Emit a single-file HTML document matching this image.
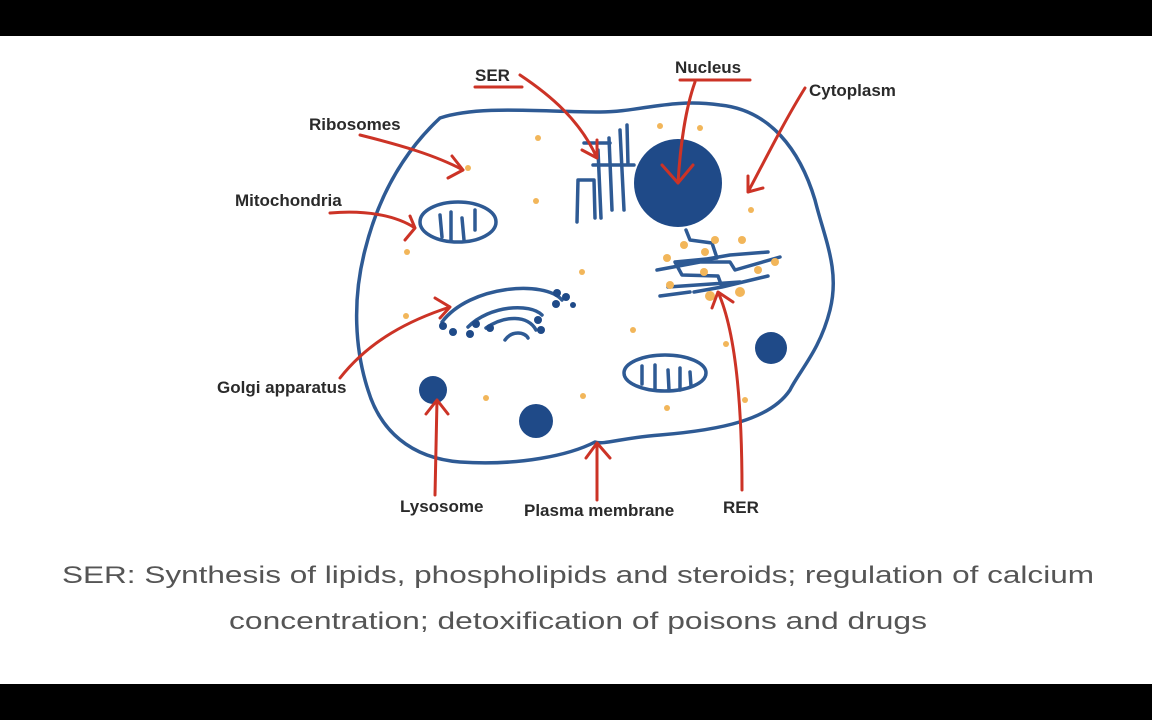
<!DOCTYPE html>
<html><head><meta charset="utf-8"><style>
html,body{margin:0;padding:0;background:#000;}
svg{display:block;}
</style></head><body>
<svg width="1152" height="720" viewBox="0 0 1152 720" xmlns="http://www.w3.org/2000/svg">
<rect x="0" y="0" width="1152" height="720" fill="#000"/>
<rect x="0" y="36" width="1152" height="648" fill="#fff"/>
<g fill="none" stroke="#2e5a94" stroke-width="3.5" stroke-linecap="round" stroke-linejoin="round">
<path d="M440,118 C480,105 540,112 600,112 C640,112 670,98 720,105 C770,110 800,150 815,200 C825,240 840,270 830,310 C820,350 800,370 790,390 C770,420 720,430 660,435 C620,438 605,445 595,442 C570,455 520,466 460,462 C410,458 380,430 368,390 C355,350 352,300 365,250 C375,210 395,160 440,118 Z"/>
<ellipse cx="458" cy="222" rx="38" ry="20"/>
<path d="M440,215 l2,22 M451,212 l0,28 M462,218 l2,22 M475,210 l0,20"/>
<ellipse cx="665" cy="373" rx="41" ry="18"/>
<path d="M642,366 l0,18 M655,365 l0,24 M668,370 l1,20 M680,368 l0,22 M690,372 l1,14"/>
<path d="M578,180 L577,222 M578,180 L594,180 L595,218 M593,165 L634,165 M598,150 L601,218 M609,138 L612,210 M620,130 L624,210 M627,125 L628,165 M584,143 L610,143"/>
<path d="M686,230 L690,240 L712,243 L717,258 L675,262 L682,275 L718,276 L722,287 L694,292 M678,264 L730,255 L768,252 M657,270 L700,262 M668,287 L740,282 M700,262 L730,262 L735,270 L780,257 M660,296 L690,292 M722,287 L768,276"/>
<path d="M442,322 C470,285 545,280 562,300 M468,327 C490,305 530,303 542,315 M486,328 C505,315 528,315 536,330 M505,340 C512,330 525,332 528,338"/>
</g>
<g fill="#1f4a88">
<circle cx="678" cy="183" r="44"/>
<circle cx="433" cy="390" r="14"/>
<circle cx="536" cy="421" r="17"/>
<circle cx="771" cy="348" r="16"/>
<circle cx="443" cy="326" r="4"/><circle cx="453" cy="332" r="4"/><circle cx="470" cy="334" r="4"/><circle cx="476" cy="324" r="4"/><circle cx="490" cy="328" r="4"/><circle cx="538" cy="320" r="4"/><circle cx="541" cy="330" r="4"/><circle cx="556" cy="304" r="4"/><circle cx="566" cy="297" r="4"/><circle cx="557" cy="293" r="4"/><circle cx="573" cy="305" r="3"/>
</g>
<g fill="#f2b65a">
<circle cx="468" cy="168" r="3"/><circle cx="538" cy="138" r="3"/><circle cx="536" cy="201" r="3"/><circle cx="407" cy="252" r="3"/><circle cx="582" cy="272" r="3"/><circle cx="406" cy="316" r="3"/><circle cx="633" cy="330" r="3"/><circle cx="486" cy="398" r="3"/><circle cx="583" cy="396" r="3"/><circle cx="667" cy="408" r="3"/><circle cx="745" cy="400" r="3"/><circle cx="726" cy="344" r="3"/><circle cx="660" cy="126" r="3"/><circle cx="700" cy="128" r="3"/><circle cx="751" cy="210" r="3"/><circle cx="684" cy="245" r="4"/><circle cx="715" cy="240" r="4"/><circle cx="742" cy="240" r="4"/><circle cx="667" cy="258" r="4"/><circle cx="705" cy="252" r="4"/><circle cx="704" cy="272" r="4"/><circle cx="758" cy="270" r="4"/><circle cx="775" cy="262" r="4"/><circle cx="670" cy="285" r="4"/><circle cx="710" cy="296" r="5"/><circle cx="740" cy="292" r="5"/>
</g>
<g fill="none" stroke="#cc3326" stroke-width="3" stroke-linecap="round" stroke-linejoin="round">
<path d="M475,87 L522,87 M680,80 L750,80"/>
<path d="M520,75 C550,95 580,120 597,158 M582,150 L597,158 L597,140"/>
<path d="M695,82 C685,110 680,150 678,183 M662,165 L678,183 L693,165"/>
<path d="M805,88 C785,120 765,160 748,192 M748,176 L748,192 L763,188"/>
<path d="M360,135 C400,145 435,155 463,170 M452,156 L463,170 L448,178"/>
<path d="M330,213 C365,210 395,215 415,228 M410,216 L415,228 L405,240"/>
<path d="M340,378 C370,340 410,320 450,307 M435,298 L450,307 L440,318"/>
<path d="M435,495 L437,400 M426,414 L437,400 L448,414"/>
<path d="M597,500 L597,443 M586,458 L597,443 L610,458"/>
<path d="M742,490 C742,400 735,330 718,292 M712,308 L718,292 L733,302"/>
</g>
<g font-family="'Liberation Sans',sans-serif" font-weight="bold" font-size="17" fill="#2a2a2a">
<text x="475" y="81">SER</text>
<text x="675" y="73">Nucleus</text>
<text x="809" y="96">Cytoplasm</text>
<text x="309" y="130">Ribosomes</text>
<text x="235" y="206">Mitochondria</text>
<text x="217" y="393">Golgi apparatus</text>
<text x="400" y="512">Lysosome</text>
<text x="524" y="516">Plasma membrane</text>
<text x="723" y="513">RER</text>
</g>
<g font-family="'Liberation Sans',sans-serif" font-size="24" fill="#555">
<text x="62" y="583" textLength="1032" lengthAdjust="spacingAndGlyphs">SER:  Synthesis of lipids, phospholipids and steroids; regulation of calcium</text>
<text x="229" y="629" textLength="698" lengthAdjust="spacingAndGlyphs">concentration; detoxification of poisons and drugs</text>
</g>
</svg>
</body></html>
